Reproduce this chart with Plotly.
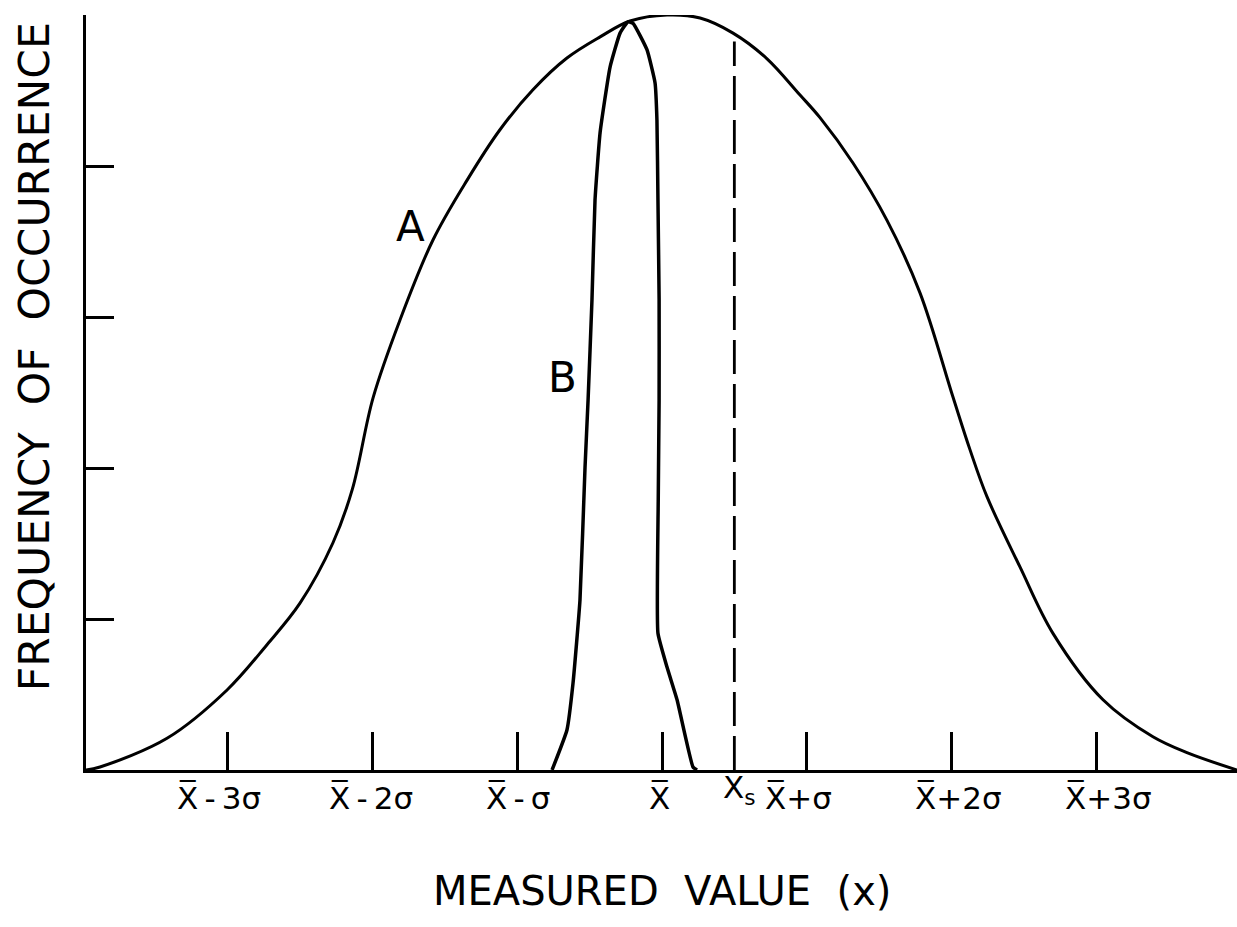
import plotly.graph_objects as go

# Curve A (broad distribution), x in sigma units from the mean
a_x = [-3.981, -3.884, -3.421, -3.006, -2.730, -2.502, -2.274, -2.140, -1.997, -1.811,
       -1.583, -1.348, -1.120, -0.892, -0.657, -0.428, -0.221, 0.035, 0.263, 0.491,
       0.726, 0.954, 1.092, 1.320, 1.555, 1.783, 2.011, 2.129, 2.246, 2.474,
       2.702, 3.048, 3.393, 3.628, 3.974]
a_y = [0.0, 0.004, 0.042, 0.106, 0.166, 0.221, 0.301, 0.372, 0.493, 0.596,
       0.702, 0.781, 0.848, 0.901, 0.943, 0.971, 0.992, 1.0, 0.996, 0.976,
       0.942, 0.894, 0.864, 0.804, 0.728, 0.632, 0.494, 0.424, 0.362, 0.269,
       0.181, 0.093, 0.044, 0.023, 0.0]

# Curve B (narrow distribution)
b_x = [-0.760, -0.657, -0.615, -0.567, -0.532, -0.511, -0.484, -0.463, -0.428, -0.359,
       -0.290, -0.235, -0.200, -0.104, -0.048, -0.035, -0.028, -0.020, -0.020, -0.026,
       -0.028, 0.035, 0.104, 0.214, 0.242]
b_y = [0.0, 0.053, 0.115, 0.225, 0.401, 0.490, 0.623, 0.755, 0.844, 0.931,
       0.976, 0.991, 0.989, 0.954, 0.910, 0.861, 0.755, 0.623, 0.490, 0.358,
       0.181, 0.136, 0.093, 0.004, 0.0]

# Dashed marker X_s
xs_x = [0.5, 0.5]
xs_y = [0.0, 0.965]

tick_vals = [-3, -2, -1, 0, 1, 2, 3]
tick_text = ["X\u0305\u2009-\u20093σ", "X\u0305\u2009-\u20092σ", "X\u0305\u2009-\u2009σ", "X\u0305",
             "X\u0305+σ", "X\u0305+2σ", "X\u0305+3σ"]
tick_shift = [-9, -2, 1, -3, -8, 7, 12]
y_ticks = [0.2, 0.4, 0.6, 0.8, 1.0]

FONT = "DejaVu Sans, Verdana, sans-serif"

fig = go.Figure()
fig.add_trace(go.Scatter(x=a_x, y=a_y, mode="lines", line=dict(color="black", width=3, shape="spline", smoothing=1.0),
                         cliponaxis=False, showlegend=False, hoverinfo="skip"))
fig.add_trace(go.Scatter(x=b_x, y=b_y, mode="lines", line=dict(color="black", width=3.5, shape="spline", smoothing=0.4),
                         cliponaxis=False, showlegend=False, hoverinfo="skip"))
fig.add_trace(go.Scatter(x=xs_x, y=xs_y, mode="lines", line=dict(color="black", width=2.8, dash="34px,10px"),
                         cliponaxis=False, showlegend=False, hoverinfo="skip"))

annotations = []
for v, t, s in zip(tick_vals, tick_text, tick_shift):
    annotations.append(dict(x=v, y=-0.064, xref="x", yref="paper", text=t, showarrow=False,
                            xshift=s, font=dict(family=FONT, size=31, color="black")))
annotations.append(dict(x=0.5, y=-0.055, xref="x", yref="paper", text="X<sub>s</sub>", showarrow=False,
                        xshift=5, font=dict(family=FONT, size=31, color="black")))
annotations.append(dict(x=-1.74, y=0.72, xref="x", yref="y", text="A", showarrow=False,
                        font=dict(family=FONT, size=42, color="black")))
annotations.append(dict(x=-0.69, y=0.52, xref="x", yref="y", text="B", showarrow=False,
                        font=dict(family=FONT, size=42, color="black")))
annotations.append(dict(x=-0.068, y=0.547, xref="paper", yref="paper", text="FREQUENCY  OF  OCCURRENCE",
                        showarrow=False, textangle=-90, font=dict(family=FONT, size=42.5, color="black")))
annotations.append(dict(x=0.5, y=-0.193, xref="paper", yref="paper", text="MEASURED  VALUE  (x)",
                        showarrow=False, font=dict(family=FONT, size=40, color="black")))

fig.update_layout(
    width=1237, height=927,
    margin=dict(l=86, r=0, t=15, b=157, pad=0),
    paper_bgcolor="white", plot_bgcolor="white",
    annotations=annotations,
    xaxis=dict(range=[-3.981, 3.974], showgrid=False, zeroline=False, showline=True, linecolor="black",
               linewidth=3, ticks="inside", ticklen=38, tickwidth=3, tickcolor="black",
               tickvals=tick_vals, showticklabels=False),
    yaxis=dict(range=[0, 1], showgrid=False, zeroline=False, showline=True, linecolor="black",
               linewidth=3, ticks="inside", ticklen=28, tickwidth=3, tickcolor="black",
               tickvals=y_ticks, showticklabels=False),
)

fig.write_html("out.html", config={"displayModeBar": False},
               post_script="document.body.style.margin='0';document.body.style.overflow='hidden';")
